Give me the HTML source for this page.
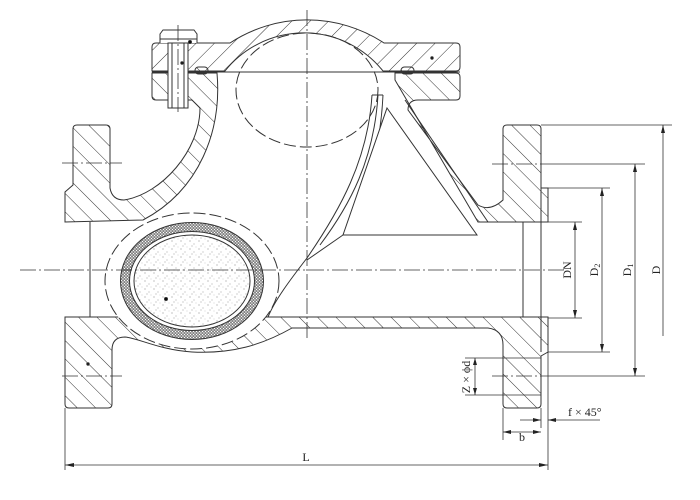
<!DOCTYPE html>
<html><head><meta charset="utf-8"><style>
html,body{margin:0;padding:0;background:#fff;}
svg{display:block;}
text{font-family:"Liberation Serif",serif;fill:#222;}
</style></head><body>
<svg width="700" height="500" viewBox="0 0 700 500" xmlns="http://www.w3.org/2000/svg">
<defs>
<pattern id="hb" patternUnits="userSpaceOnUse" width="13" height="13" patternTransform="rotate(45)"><line x1="0" y1="0" x2="0" y2="13" stroke="#333" stroke-width="1"/></pattern>
<pattern id="hf" patternUnits="userSpaceOnUse" width="13" height="13" patternTransform="rotate(-45)"><line x1="0" y1="0" x2="0" y2="13" stroke="#333" stroke-width="1"/></pattern>
<pattern id="dots" patternUnits="userSpaceOnUse" width="9" height="8">
<circle cx="1" cy="1" r="0.5" fill="#666"/><circle cx="5" cy="4" r="0.5" fill="#888"/><circle cx="3" cy="6" r="0.45" fill="#777"/><circle cx="7" cy="7" r="0.4" fill="#999"/></pattern>
<pattern id="ring" patternUnits="userSpaceOnUse" width="3" height="3"><rect width="3" height="3" fill="#fff"/><circle cx="1.5" cy="1.5" r="1.1" fill="none" stroke="#444" stroke-width="0.6"/></pattern>
</defs>
<g fill="none" stroke="#333" stroke-width="1">
<path d="M152,71 L152,47 Q152,43 156,43 L230,43 A140,140 0 0 1 384,43 L456,43 Q460,43 460,47 L460,67 Q460,71 456,71 L383,71 A101,101 0 0 0 225,71 Z" fill="url(#hb)"/>
<path d="M152,73 L217,73 C222,130 200,190 143,220 L65,222 L65,192 L73,185 L73,129 Q73,125 77,125 L106,125 Q110,125 110,129 L110,188 Q112,200 124,200 C162,194 200,150 200,108 L192,100 L156,100 Q152,100 152,96 Z" fill="url(#hf)"/>
<path d="M395,73 L456,73 Q460,73 460,77 L460,96 Q460,100 456,100 L418,100 Q408,100 408,110 L478,205 Q490,212 503,200 L503,129 Q503,125 507,125 L537,125 Q541,125 541,129 L541,188 L548,188 L548,222 L478,222 L395,80 Z" fill="url(#hf)"/>
<line x1="405" y1="100" x2="488" y2="222"/>
<path d="M65,317 L548,317 L548,352 L541,356 L541,404 Q541,408 537,408 L507,408 Q503,408 503,404 L503,345 Q503,330 488,328 L292,328 C262,345 232,354 192,352 C160,350 138,338 125,337 Q112,337 112,350 L112,404 Q112,408 108,408 L69,408 Q65,408 65,404 Z" fill="url(#hf)"/>
<line x1="90" y1="222" x2="90" y2="317"/>
<line x1="523" y1="222" x2="523" y2="317"/>
<line x1="541" y1="188" x2="541" y2="352" />
<ellipse cx="307" cy="90" rx="71" ry="57" stroke-dasharray="12,4" fill="none"/>
<ellipse cx="192" cy="281" rx="87" ry="68" stroke-dasharray="12,4" fill="#fff"/>
<ellipse cx="192" cy="281" rx="67" ry="54" stroke="url(#ring)" stroke-width="9" fill="#fff"/>
<ellipse cx="192" cy="281" rx="71.5" ry="58.5"/>
<ellipse cx="192" cy="281" rx="62.5" ry="49.5"/>
<ellipse cx="192" cy="281" rx="58" ry="46" fill="url(#dots)"/>
<circle cx="166" cy="299" r="1.5" fill="#000"/>
<path d="M372,95 C368,160 340,210 307,258 C290,280 275,300 268,317"/>
<path d="M383,95 C380,160 362,200 343,235"/>
<path d="M378,95 C374,160 350,205 320,245"/>
<line x1="372" y1="95" x2="383" y2="95"/>
<line x1="343" y1="235" x2="307" y2="260"/>
<path d="M387,108 L477,235 L343,235 Z" fill="#fff"/>
<line x1="152" y1="72" x2="460" y2="72"/>
<rect x="195" y="67" width="13" height="7" rx="3.5" fill="url(#hf)"/>
<rect x="401" y="67" width="13" height="7" rx="3.5" fill="url(#hf)"/>
<path d="M160,43 L160,34 L163,30 L194,30 L197,34 L197,43" fill="#fff"/>
<line x1="160" y1="39" x2="197" y2="39"/>
<rect x="168" y="43" width="20" height="65" fill="#fff"/>
<line x1="172" y1="43" x2="172" y2="108"/><line x1="184" y1="43" x2="184" y2="108"/>
<circle cx="190" cy="42" r="1.5" fill="#000"/><circle cx="182" cy="63" r="1.2" fill="#000"/>
<circle cx="432" cy="58" r="1.2" fill="#000"/><circle cx="88" cy="364" r="1.2" fill="#000"/>
</g>
<g stroke="#333" stroke-width="0.8" stroke-dasharray="16,3,2,3" fill="none">
<line x1="20" y1="270" x2="565" y2="270"/>
<line x1="307" y1="10" x2="307" y2="340"/>
<line x1="178" y1="25" x2="178" y2="112"/>
<line x1="62" y1="163" x2="122" y2="163"/>
<line x1="62" y1="376" x2="122" y2="376"/>
<line x1="492" y1="164" x2="548" y2="164"/>
<line x1="492" y1="376" x2="548" y2="376"/>
</g>
<g stroke="#333" stroke-width="0.8" fill="none">
<line x1="548" y1="222" x2="582" y2="222"/><line x1="548" y1="318" x2="582" y2="318"/>
<line x1="575" y1="222" x2="575" y2="318"/>
<line x1="548" y1="188" x2="610" y2="188"/><line x1="548" y1="352" x2="610" y2="352"/>
<line x1="602" y1="188" x2="602" y2="352"/>
<line x1="548" y1="164" x2="645" y2="164"/><line x1="548" y1="376" x2="645" y2="376"/>
<line x1="635" y1="164" x2="635" y2="376"/>
<line x1="541" y1="125" x2="672" y2="125"/>
<line x1="663" y1="125" x2="663" y2="336"/>
<line x1="465" y1="358" x2="541" y2="358"/><line x1="465" y1="395" x2="541" y2="395"/>
<line x1="475" y1="358" x2="475" y2="395"/>
<line x1="503" y1="408" x2="503" y2="440"/>
<line x1="541" y1="408" x2="541" y2="428"/>
<line x1="548" y1="352" x2="548" y2="470"/>
<line x1="65" y1="408" x2="65" y2="470"/>
<line x1="503" y1="432" x2="541" y2="432"/>
<line x1="520" y1="420" x2="541" y2="420"/><line x1="548" y1="420" x2="600" y2="420"/>
<line x1="65" y1="465" x2="548" y2="465"/>
</g>
<g fill="#222">
<path d="M575,222 l-2,8 h4z"/><path d="M575,318 l-2,-8 h4z"/>
<path d="M602,188 l-2,8 h4z"/><path d="M602,352 l-2,-8 h4z"/>
<path d="M635,164 l-2,8 h4z"/><path d="M635,376 l-2,-8 h4z"/>
<path d="M663,125 l-2,8 h4z"/>
<path d="M475,358 l-2,7 h4z"/><path d="M475,395 l-2,-7 h4z"/>
<path d="M503,432 l8,-2 v4z"/><path d="M541,432 l-8,-2 v4z"/>
<path d="M541,420 l-8,-2 v4z"/><path d="M548,420 l8,-2 v4z"/>
<path d="M65,465 l9,-2 v4z"/><path d="M548,465 l-9,-2 v4z"/>
</g>
<g font-size="12">
<text transform="translate(571,270) rotate(-90)" text-anchor="middle">DN</text>
<text transform="translate(598,270) rotate(-90)" text-anchor="middle">D<tspan font-size="8" dy="2">2</tspan></text>
<text transform="translate(631,270) rotate(-90)" text-anchor="middle">D<tspan font-size="8" dy="2">1</tspan></text>
<text transform="translate(660,270) rotate(-90)" text-anchor="middle">D</text>
<text transform="translate(470,377) rotate(-90)" text-anchor="middle">Z × ϕd</text>
<text x="522" y="441" text-anchor="middle">b</text>
<text x="568" y="416">f × 45°</text>
<text x="306" y="461" text-anchor="middle">L</text>
</g>
</svg>
</body></html>
